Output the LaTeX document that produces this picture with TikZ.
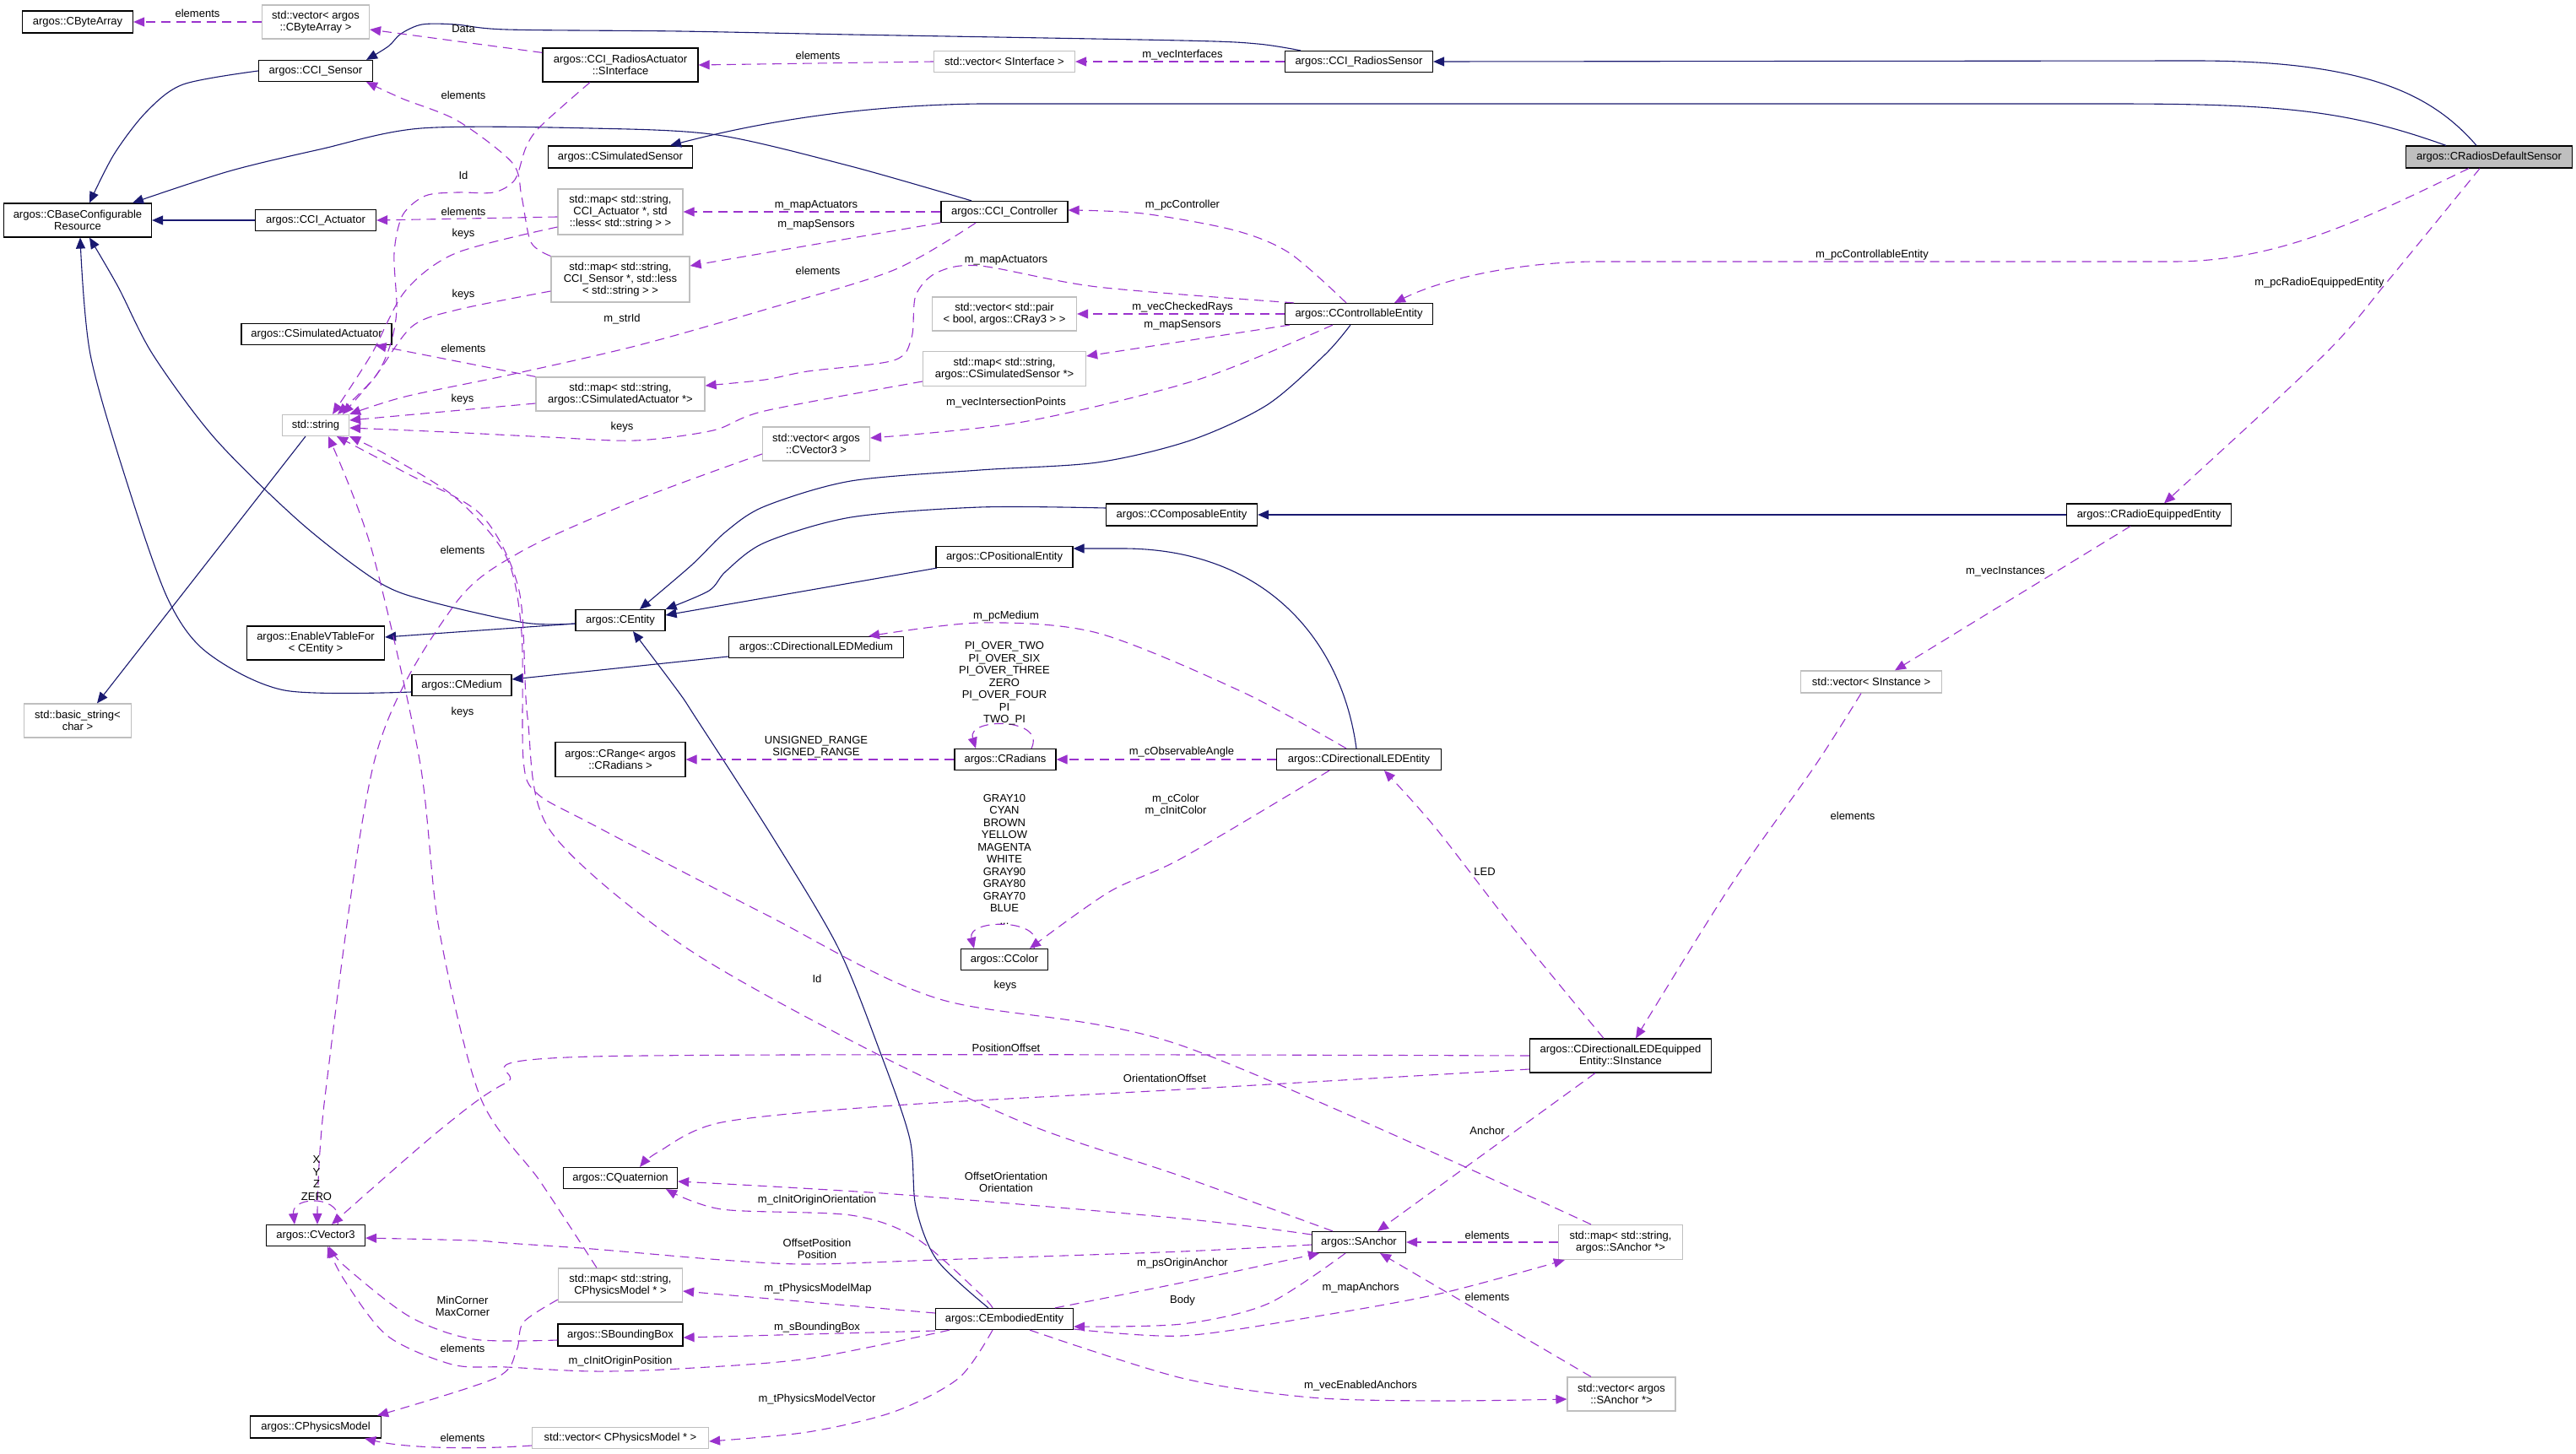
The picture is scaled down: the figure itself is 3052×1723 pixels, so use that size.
\documentclass[tikz,border=0pt]{standalone}
\usepackage{fontspec}
\setmainfont{Liberation Sans}
\usetikzlibrary{arrows.meta}
\definecolor{navy}{HTML}{191970}
\definecolor{purp}{HTML}{9A32CD}
\definecolor{graybd}{HTML}{BFBFBF}
\begin{document}
\begin{tikzpicture}[x=1pt,y=-1pt,
 box/.style={draw=black, line width=1.2pt, fill=white, inner sep=0pt, align=center, font=\fontsize{13}{14}\selectfont},
 cls/.style={box},
 ext/.style={box, draw=graybd},
 mainbox/.style={box, fill=graybd},
 inh/.style={draw=navy, line width=1.1pt, -{Triangle[length=13pt,width=11pt]}},
 mem/.style={draw=purp, line width=1.1pt, dash pattern=on 11pt off 7pt, -{Triangle[length=13pt,width=11pt]}},
 lbl/.style={inner sep=0pt, align=center, font=\fontsize{13}{14.5}\selectfont},
]
\fill[white] (0,0) rectangle (3052,1723);
\useasboundingbox (0,0) rectangle (3052,1723);

% ---------------- nodes ----------------
\node[cls, minimum width=131pt, minimum height=26pt] (bytearray) at (92,26) {argos::CByteArray};
\node[ext, minimum width=127pt, minimum height=40pt] (vbyte) at (374,26) {std::vector< argos\\::CByteArray >};
\node[cls, minimum width=135pt, minimum height=25pt] (ccisensor) at (374,84) {argos::CCI\_Sensor};
\node[cls, minimum width=184pt, minimum height=40pt] (sinterface) at (735,77) {argos::CCI\_RadiosActuator\\::SInterface};
\node[cls, minimum width=171pt, minimum height=26pt] (simsensor) at (735,186) {argos::CSimulatedSensor};
\node[cls, minimum width=175pt, minimum height=40pt] (cbcr) at (92,261) {argos::CBaseConfigurable\\Resource};
\node[cls, minimum width=143pt, minimum height=25pt] (cciact) at (374,261) {argos::CCI\_Actuator};
\node[ext, minimum width=148pt, minimum height=54pt] (mapact) at (735,251) {std::map< std::string,\\CCI\_Actuator *, std\\::less< std::string > >};
\node[ext, minimum width=164pt, minimum height=54pt] (mapsens) at (735,331) {std::map< std::string,\\CCI\_Sensor *, std::less\\< std::string > >};
\node[cls, minimum width=178pt, minimum height=25pt] (simact) at (375,396) {argos::CSimulatedActuator};
\node[ext, minimum width=200pt, minimum height=40pt] (mapsimact) at (735,467) {std::map< std::string,\\argos::CSimulatedActuator *>};
\node[ext, minimum width=79pt, minimum height=25pt] (stdstring) at (374,504) {std::string};
\node[ext, minimum width=193pt, minimum height=41pt] (mapsimsens) at (1190,437) {std::map< std::string,\\argos::CSimulatedSensor *>};
\node[cls, minimum width=150pt, minimum height=25pt] (controller) at (1190,251) {argos::CCI\_Controller};
\node[ext, minimum width=167pt, minimum height=25pt] (vsinterface) at (1190,73) {std::vector< SInterface >};
\node[cls, minimum width=175pt, minimum height=25pt] (radiossensor) at (1610,73) {argos::CCI\_RadiosSensor};
\node[ext, minimum width=171pt, minimum height=40pt] (vpair) at (1190,372) {std::vector< std::pair\\< bool, argos::CRay3 > >};
\node[cls, minimum width=175pt, minimum height=25pt] (controllable) at (1610,372) {argos::CControllableEntity};
\node[mainbox, minimum width=197pt, minimum height=26pt] (main) at (2949,186) {argos::CRadiosDefaultSensor};
\node[ext, minimum width=127pt, minimum height=40pt] (vvec3) at (967,526) {std::vector< argos\\::CVector3 >};
\node[cls, minimum width=179pt, minimum height=26pt] (composable) at (1400,610) {argos::CComposableEntity};
\node[cls, minimum width=162pt, minimum height=25pt] (positional) at (1190,660) {argos::CPositionalEntity};
\node[cls, minimum width=106pt, minimum height=25pt] (entity) at (735,735) {argos::CEntity};
\node[cls, minimum width=163pt, minimum height=40pt] (vtable) at (374,762) {argos::EnableVTableFor\\< CEntity >};
\node[cls, minimum width=207pt, minimum height=25pt] (ledmedium) at (967,767) {argos::CDirectionalLEDMedium};
\node[cls, minimum width=118pt, minimum height=25pt] (medium) at (547,812) {argos::CMedium};
\node[ext, minimum width=127pt, minimum height=40pt] (basicstring) at (92,854) {std::basic\_string<\\char >};
\node[cls, minimum width=154pt, minimum height=41pt] (range) at (735,900) {argos::CRange< argos\\::CRadians >};
\node[cls, minimum width=120pt, minimum height=25pt] (radians) at (1191,900) {argos::CRadians};
\node[cls, minimum width=195pt, minimum height=25pt] (ledentity) at (1610,900) {argos::CDirectionalLEDEntity};
\node[cls, minimum width=195pt, minimum height=26pt] (radioequipped) at (2546,610) {argos::CRadioEquippedEntity};
\node[ext, minimum width=167pt, minimum height=26pt] (vsinstance) at (2217,808) {std::vector< SInstance >};
\node[cls, minimum width=103pt, minimum height=25pt] (color) at (1190,1137) {argos::CColor};
\node[cls, minimum width=215pt, minimum height=40pt] (sinstance) at (1920,1251) {argos::CDirectionalLEDEquipped\\Entity::SInstance};
\node[cls, minimum width=135pt, minimum height=25pt] (quaternion) at (735,1396) {argos::CQuaternion};
\node[cls, minimum width=117pt, minimum height=25pt] (vector3) at (374,1464) {argos::CVector3};
\node[cls, minimum width=111pt, minimum height=25pt] (sanchor) at (1610,1472) {argos::SAnchor};
\node[ext, minimum width=147pt, minimum height=41pt] (mapanchor) at (1920,1472) {std::map< std::string,\\argos::SAnchor *>};
\node[ext, minimum width=147pt, minimum height=40pt] (mapphys) at (735,1523) {std::map< std::string,\\CPhysicsModel * >};
\node[cls, minimum width=148pt, minimum height=26pt] (bbox) at (735,1582) {argos::SBoundingBox};
\node[cls, minimum width=163pt, minimum height=25pt] (embodied) at (1190,1563) {argos::CEmbodiedEntity};
\node[cls, minimum width=155pt, minimum height=26pt] (physmodel) at (374,1691) {argos::CPhysicsModel};
\node[ext, minimum width=209pt, minimum height=25pt] (vphys) at (735,1704) {std::vector< CPhysicsModel * >};
\node[ext, minimum width=128pt, minimum height=40pt] (vanchor) at (1921,1652) {std::vector< argos\\::SAnchor *>};

% ---------------- inheritance ----------------
\draw[inh] plot[smooth] coordinates {(ccisensor.west) (217,100) (173,133) (135,183) ([xshift=14pt]cbcr.north)};
\draw[inh] (cciact.west) -- (cbcr.east);
\draw[inh] plot[smooth] coordinates {([xshift=-39pt]controller.north) (1008,197) (850,160) (700,152) (499,152) (379,177) (271,203) ([xshift=65pt]cbcr.north)};
\draw[inh] ([xshift=-15pt]main.north) .. controls (2880,110) and (2800,72) .. (2600,72) -- (radiossensor.east);
\draw[inh] ([xshift=-51pt]main.north) .. controls (2780,130) and (2700,123) .. (2500,123) -- (1161,123) .. controls (1000,125) and (880,150) .. ([xshift=59pt]simsensor.north);
\draw[inh] plot[smooth] coordinates {([xshift=-69pt]radiossensor.north) (1490,52) (1400,48) (1008,41) (804,37) (600,35) (540,29) (500,29) (475,40) (460,55) ([xshift=60pt]ccisensor.north)};
\draw[inh] plot[smooth] coordinates {([xshift=-10pt]controllable.south) (1570,420) (1501,480) (1410,522) (1300,548) (1161,557) (1008,570) (906,600) (860,630) (819,670) ([xshift=23pt]entity.north)};
\draw[inh] plot[smooth] coordinates {([yshift=8pt]composable.west) (1161,601) (1008,613) (906,643) (860,677) (840,700) (entity.north east)};
\draw[inh] (radioequipped.west) -- (composable.east);
\draw[inh] ([xshift=-80pt]positional.south) -- ([yshift=6pt]entity.east);
\draw[inh] ([xshift=-3pt]ledentity.north) .. controls (1590,760) and (1500,650) .. (1330,650) -- ([yshift=10pt]positional.east);
\draw[inh] ([yshift=-4pt]entity.west) -- ([yshift=7pt]vtable.east);
\draw[inh] plot[smooth] coordinates {([yshift=-4pt]entity.west) (622,738) (510,713) (449,690) (357,620) (255,520) (181,420) (140,340) ([xshift=14pt]cbcr.south)};
\draw[inh] plot[smooth] coordinates {([yshift=-8pt]medium.west) (337,818) (245,773) (199,710) (153,580) (107,420) ([xshift=3pt]cbcr.south)};
\draw[inh] ([yshift=-11pt]ledmedium.west) -- ([yshift=7pt]medium.east);
\draw[inh] ([xshift=-12pt]stdstring.south) -- ([xshift=23pt]basicstring.north);
\draw[inh] plot[smooth] coordinates {([xshift=-19pt]embodied.north) (1110,1493) (1085,1430) (1078,1350) (1044,1250) (993,1123) (916,993) (824,850) (804,820) ([xshift=15pt]entity.south)};

% ---------------- members ----------------
\draw[mem] (vbyte.west) -- (bytearray.east);
\draw[mem] ([yshift=-6pt]sinterface.north west) -- ([yshift=-9pt]vbyte.east);
\draw[mem] (vsinterface.west) -- (sinterface.east);
\draw[mem] (radiossensor.west) -- (vsinterface.east);
\draw[mem] plot[smooth] coordinates {(mapsens.north west) (629,287) (618,233) (607,193) (542,143) (477,117) ([xshift=60pt]ccisensor.south)};
\draw[mem] plot[smooth] coordinates {([xshift=-36pt]sinterface.south) (640,150) (623,175) (610,213) (585,228) (542,228) (504,232) (477,255) (467,300) (470,367) (462,410) (444,447) ([xshift=26pt]stdstring.north)};
\draw[mem] ([yshift=-6pt]mapact.west) -- (cciact.east);
\draw[mem] plot[smooth] coordinates {([yshift=-18pt]mapact.west) (540,300) (480,345) (440,420) ([xshift=20pt]stdstring.north)};
\draw[mem] plot[smooth] coordinates {([yshift=-14pt]mapsens.west) (542,367) (488,387) (444,447) ([xshift=32pt]stdstring.north)};
\draw[mem] plot[smooth] coordinates {([xshift=-34pt]controller.south) (1059,320) (906,367) (753,410) (600,445) (480,470) (stdstring.north east)};
\draw[mem] ([yshift=-11pt]mapsimact.west) -- ([yshift=6pt]stdstring.east);
\draw[mem] plot[smooth] coordinates {([yshift=-15pt]mapsimsens.west) (906,487) (845,510) (753,522) (650,518) (530,512) ([yshift=-3pt]stdstring.east)};
\draw[mem] (mapsimact.north west) -- ([xshift=-20pt]simact.south east);
\draw[mem] plot[smooth] coordinates {([yshift=-12pt]vvec3.west) (753,593) (615,655) (536,720) (444,900) (385,1300) ([xshift=2pt]vector3.north)};
\draw[mem] (controller.west) -- (mapact.east);
\draw[mem] ([yshift=-13pt]controller.west) -- ([yshift=16pt]mapsens.east);
\draw[mem] plot[smooth] coordinates {([xshift=-15pt]controllable.north) (1528,300) (1463,273) (1354,253) ([yshift=2pt]controller.east)};
\draw[mem] (controllable.west) -- (vpair.east);
\draw[mem] ([xshift=-82pt]controllable.south) -- ([yshift=15pt]mapsimsens.east);
\draw[mem] plot[smooth] coordinates {([xshift=-77pt]controllable.north) (1300,340) (1161,315) (1110,323) (1085,350) (1080,400) (1059,427) (957,440) (906,450) ([yshift=10pt]mapsimact.east)};
\draw[mem] plot[smooth] coordinates {([xshift=-31pt]controllable.south) (1419,450) (1212,500) ([yshift=7pt]vvec3.east)};
\draw[mem] ([xshift=-24pt]main.south) .. controls (2800,260) and (2700,310) .. (2574,310) -- (1885,310) .. controls (1780,312) and (1700,335) .. ([xshift=42pt]controllable.north);
\draw[mem] plot[smooth] coordinates {([xshift=-11pt]main.south) (2829,333) (2754,420) ([xshift=18pt]radioequipped.north)};
\draw[mem] ([xshift=-22pt]radioequipped.south) -- ([xshift=28pt]vsinstance.north);
\draw[mem] plot[smooth] coordinates {([xshift=-12pt]vsinstance.south) (2150,908) (2050,1050) ([xshift=18pt]sinstance.north)};
\draw[mem] plot[smooth] coordinates {([xshift=-20pt]sinstance.north) (1793,1100) (1700,980) ([xshift=30pt]ledentity.south)};
\draw[mem] ([xshift=-30pt]sinstance.south) -- ([xshift=22pt]sanchor.north);
\draw[mem] plot[smooth] coordinates {(sinstance.west) (702,1252) (600,1283) (520,1340) ([xshift=19pt]vector3.north)};
\draw[mem] plot[smooth] coordinates {([yshift=-16pt]sinstance.west) (1400,1291) (1059,1310) (855,1330) (780,1365) ([xshift=23pt]quaternion.north)};
\draw[mem] plot[smooth] coordinates {([xshift=-15pt]ledentity.north) (1472,820) (1300,750) (1161,738) ([xshift=62pt]ledmedium.north)};
\draw[mem] (ledentity.west) -- (radians.east);
\draw[mem] plot[smooth] coordinates {([xshift=-35pt]ledentity.south) (1400,1017) (1314,1057) ([xshift=30pt]color.north)};
\draw[mem] (radians.west) -- (range.east);
\draw[mem] ([xshift=31pt]radians.north) .. controls (1240,850) and (1145,850) .. ([xshift=-35pt]radians.north);
\draw[mem] ([xshift=35pt]color.north) .. controls (1242,1088) and (1145,1088) .. ([xshift=-36pt]color.north);
\draw[mem] ([xshift=26pt]vector3.north) .. controls (410,1416) and (345,1416) .. ([xshift=-25pt]vector3.north);
\draw[mem] plot[smooth] coordinates {([yshift=-3pt]sanchor.west) (1400,1483) (1110,1493) (957,1498) (855,1493) (702,1480) (600,1473) (561,1470) ([yshift=-3pt]vector3.east)};
\draw[mem] plot[smooth] coordinates {([yshift=9pt]sanchor.west) (1400,1444) (1059,1415) ([yshift=-4pt]quaternion.east)};
\draw[mem] plot[smooth] coordinates {([xshift=-16pt]sanchor.south) (1502,1545) (1400,1569) ([yshift=-9pt]embodied.east)};
\draw[mem] plot[smooth] coordinates {([xshift=60pt]embodied.north) (1400,1520) ([xshift=-47pt]sanchor.south)};
\draw[mem] plot[smooth] coordinates {([yshift=-12pt]embodied.east) (1400,1583) (1553,1561) (1706,1533) ([xshift=8pt]mapanchor.south west)};
\draw[mem] plot[smooth] coordinates {([xshift=30pt]embodied.south) (1400,1633) (1553,1656) (1706,1660) ([yshift=-6pt]vanchor.west)};
\draw[mem] (mapanchor.west) -- (sanchor.east);
\draw[mem] ([xshift=-36pt]vanchor.north) -- ([xshift=25pt]sanchor.south);
\draw[mem] plot[smooth] coordinates {([xshift=-14pt]embodied.north) (1161,1533) (1085,1467) (1008,1440) (855,1433) ([xshift=54pt]quaternion.south)};
\draw[mem] ([yshift=7pt]embodied.west) -- ([yshift=-7pt]mapphys.east);
\draw[mem] ([yshift=-14pt]embodied.west) -- ([yshift=-3pt]bbox.east);
\draw[mem] plot[smooth] coordinates {([xshift=-65pt]embodied.south) (957,1610) (804,1622) (702,1625) (600,1620) (536,1617) (459,1583) (408,1517) ([xshift=14pt]vector3.south)};
\draw[mem] plot[smooth] coordinates {([xshift=-14pt]embodied.south) (1136,1633) (1059,1673) (957,1697) ([yshift=-4pt]vphys.east)};
\draw[mem] plot[smooth] coordinates {([yshift=-6pt]bbox.west) (561,1587) (485,1560) (408,1500) ([xshift=16pt]vector3.south)};
\draw[mem] plot[smooth] coordinates {([yshift=-17pt]mapphys.west) (620,1567) (612,1600) (587,1633) ([xshift=-5pt]physmodel.north east)};
\draw[mem] ([yshift=-9pt]vphys.west) .. controls (560,1718) and (480,1716) .. ([xshift=-20pt]physmodel.south east);
\draw[mem] plot[smooth] coordinates {([xshift=-28pt]mapphys.north) (640,1400) (569,1300) (520,1100) (497,900) (440,650) ([xshift=15pt]stdstring.south)};
\draw[mem] plot[smooth] coordinates {([xshift=-31pt]sanchor.north) (1400,1394) (1212,1330) (1008,1233) (804,1117) (651,983) (625,850) (615,700) (570,610) (480,560) ([xshift=25pt]stdstring.south)};
\draw[mem] plot[smooth] coordinates {([xshift=-35pt]mapanchor.north) (1400,1239) (1110,1183) (906,1083) (702,977) (636,940) (620,900) (618,750) (600,660) (540,590) (460,540) (stdstring.south east)};

% ---------------- labels ----------------
\node[lbl] (l01) at (234,16) {elements};
\node[lbl] (l02) at (549,34) {Data};
\node[lbl] (l03) at (969,66) {elements};
\node[lbl] (l04) at (1401,65) {m\_vecInterfaces};
\node[lbl] (l05) at (549,113) {elements};
\node[lbl] (l06) at (549,208) {Id};
\node[lbl] (l07) at (549,251) {elements};
\node[lbl] (l08) at (549,277) {keys};
\node[lbl] (l09) at (549,349) {keys};
\node[lbl] (l10) at (737,378) {m\_strId};
\node[lbl] (l11) at (548,473) {keys};
\node[lbl] (l12) at (737,506) {keys};
\node[lbl] (l13) at (549,413) {elements};
\node[lbl] (l14) at (548,652) {elements};
\node[lbl] (l15) at (967,243) {m\_mapActuators};
\node[lbl] (l16) at (967,266) {m\_mapSensors};
\node[lbl] (l17) at (1401,243) {m\_pcController};
\node[lbl] (l18) at (1401,364) {m\_vecCheckedRays};
\node[lbl] (l19) at (1401,385) {m\_mapSensors};
\node[lbl] (l20) at (1192,308) {m\_mapActuators};
\node[lbl] (l21) at (969,321) {elements};
\node[lbl] (l22) at (1192,477) {m\_vecIntersectionPoints};
\node[lbl] (l23) at (2218,302) {m\_pcControllableEntity};
\node[lbl] (l24) at (2748,335) {m\_pcRadioEquippedEntity};
\node[lbl] (l25) at (2376,677) {m\_vecInstances};
\node[lbl] (l26) at (2195,967) {elements};
\node[lbl] (l27) at (1759,1033) {LED};
\node[lbl] (l28) at (1762,1340) {Anchor};
\node[lbl] (l29) at (1192,1242) {PositionOffset};
\node[lbl] (l30) at (1380,1278) {OrientationOffset};
\node[lbl] (l31) at (1192,730) {m\_pcMedium};
\node[lbl] (l32) at (1400,891) {m\_cObservableAngle};
\node[lbl] (l33) at (1393,954) {m\_cColor\\m\_cInitColor};
\node[lbl] (l34) at (967,885) {UNSIGNED\_RANGE\\SIGNED\_RANGE};
\node[lbl] (l35) at (1190,810) {PI\_OVER\_TWO\\PI\_OVER\_SIX\\PI\_OVER\_THREE\\ZERO\\PI\_OVER\_FOUR\\PI\\TWO\_PI};
\node[lbl] (l36) at (1190,1018) {GRAY10\\CYAN\\BROWN\\YELLOW\\MAGENTA\\WHITE\\GRAY90\\GRAY80\\GRAY70\\BLUE\\...};
\node[lbl] (l37) at (375,1396) {X\\Y\\Z\\ZERO};
\node[lbl] (l38) at (968,1480) {OffsetPosition\\Position};
\node[lbl] (l39) at (1192,1401) {OffsetOrientation\\Orientation};
\node[lbl] (l40) at (1401,1541) {Body};
\node[lbl] (l41) at (1401,1497) {m\_psOriginAnchor};
\node[lbl] (l42) at (1612,1526) {m\_mapAnchors};
\node[lbl] (l43) at (1612,1642) {m\_vecEnabledAnchors};
\node[lbl] (l44) at (1762,1464) {elements};
\node[lbl] (l45) at (1762,1537) {elements};
\node[lbl] (l46) at (968,1422) {m\_cInitOriginOrientation};
\node[lbl] (l47) at (969,1527) {m\_tPhysicsModelMap};
\node[lbl] (l48) at (968,1573) {m\_sBoundingBox};
\node[lbl] (l49) at (735,1613) {m\_cInitOriginPosition};
\node[lbl] (l50) at (968,1658) {m\_tPhysicsModelVector};
\node[lbl] (l51) at (548,1548) {MinCorner\\MaxCorner};
\node[lbl] (l52) at (548,1598) {elements};
\node[lbl] (l53) at (548,1704) {elements};
\node[lbl] (l54) at (548,844) {keys};
\node[lbl] (l55) at (968,1160) {Id};
\node[lbl] (l56) at (1191,1168) {keys};
\end{tikzpicture}
\end{document}
